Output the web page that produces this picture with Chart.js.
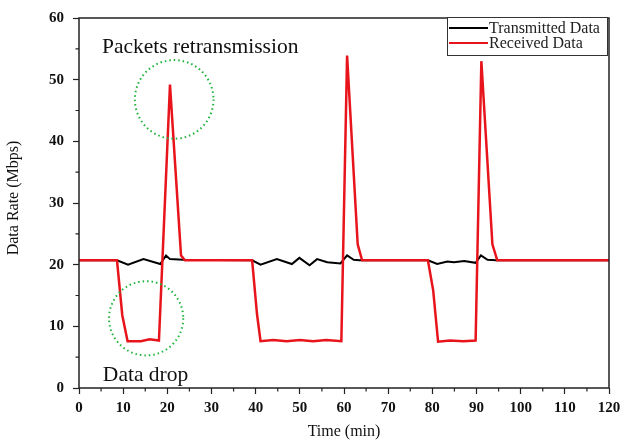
<!DOCTYPE html>
<html>
<head>
<meta charset="utf-8">
<script src="https://cdn.jsdelivr.net/npm/chart.js@4/dist/chart.umd.min.js"></script>
<style>
  html, body { margin: 0; padding: 0; background: #fff; }
  #wrap { width: 628px; height: 441px; }
</style>
</head>
<body>
<div id="wrap"><canvas id="myChart" width="628" height="441"></canvas></div>
<script>
// Transmitted data (black)
const txTime = [0, 8.6, 11.1, 14.6, 18.4, 19.7, 20.6, 23.6, 39.2, 41.1, 44.8, 48.2, 49.9, 52.2, 53.9, 56.2, 59.2, 60.7, 62.2, 63.5, 79.0, 81.1, 83.4, 84.9, 87.2, 89.8, 91.0, 92.5, 94.4, 120];
const txRate = [20.7, 20.7, 20.0, 20.9, 20.1, 21.5, 20.9, 20.8, 20.7, 20.0, 20.9, 20.1, 21.1, 19.9, 20.9, 20.4, 20.2, 21.5, 20.8, 20.7, 20.7, 20.1, 20.5, 20.4, 20.6, 20.3, 21.5, 20.8, 20.7, 20.7];

// Received data (red)
const rxTime = [0, 8.6, 9.8, 11.0, 14.0, 16.0, 18.1, 20.6, 23.1, 24.0, 39.2, 40.3, 41.1, 44, 47, 50, 53, 56, 59.4, 60.7, 63.1, 64.1, 79.0, 80.2, 81.3, 84, 87, 89.8, 91.1, 93.6, 94.7, 120];
const rxRate = [20.7, 20.7, 11.8, 7.6, 7.6, 7.9, 7.7, 49.2, 21.5, 20.7, 20.7, 12.0, 7.6, 7.8, 7.6, 7.8, 7.6, 7.8, 7.6, 53.9, 23.3, 20.7, 20.7, 15.8, 7.5, 7.7, 7.6, 7.7, 53.0, 23.3, 20.7, 20.7];

const seriesNames = ['Transmitted Data', 'Received Data'];
const xTicks = [0, 10, 20, 30, 40, 50, 60, 70, 80, 90, 100, 110, 120];
const yTicks = [0, 10, 20, 30, 40, 50, 60];

// annotations in data units: [time, rate, radius(min)]
const circles = [[21.55, 46.8, 8.9], [15.2, 11.3, 8.4]];
const notes = [['Packets retransmission', 5.2, 55.3], ['Data drop', 5.4, 2.1]];

const serif = '"Liberation Serif", "Times New Roman", serif';

const toPoints = (xs, ys) => xs.map((x, i) => ({x: x, y: ys[i]}));

const decorations = {
    id: 'decorations',
    afterDraw(chart) {
        const ctx = chart.ctx;
        const xs = chart.scales.x, ys = chart.scales.y;
        const a = chart.chartArea;
        ctx.save();
        // frame
        ctx.strokeStyle = '#222';
        ctx.lineWidth = 1.5;
        ctx.strokeRect(a.left, a.top, a.right - a.left, a.bottom - a.top);
        // minor ticks
        ctx.lineWidth = 1.2;
        ctx.beginPath();
        for (let v = 5; v < 120; v += 10) {
            const px = xs.getPixelForValue(v);
            ctx.moveTo(px, a.bottom);
            ctx.lineTo(px, a.bottom + 3.5);
        }
        for (let v = 5; v < 60; v += 10) {
            const py = ys.getPixelForValue(v);
            ctx.moveTo(a.left, py);
            ctx.lineTo(a.left - 3.5, py);
        }
        ctx.stroke();
        // dotted circles
        ctx.strokeStyle = '#1db33a';
        ctx.lineWidth = 2;
        ctx.setLineDash([1.5, 3]);
        circles.forEach(c => {
            const cx = xs.getPixelForValue(c[0]);
            const cy = ys.getPixelForValue(c[1]);
            const r = xs.getPixelForValue(c[2]) - xs.getPixelForValue(0);
            ctx.beginPath();
            ctx.arc(cx, cy, r, 0, Math.PI * 2);
            ctx.stroke();
        });
        ctx.setLineDash([]);
        // notes
        ctx.fillStyle = '#111';
        ctx.font = '21.5px ' + serif;
        ctx.textBaseline = 'middle';
        ctx.textAlign = 'left';
        notes.forEach(n => {
            ctx.fillText(n[0], xs.getPixelForValue(n[1]), ys.getPixelForValue(n[2]));
        });
        // axis titles
        ctx.font = '16px ' + serif;
        ctx.textAlign = 'center';
        ctx.fillText('Time (min)', (a.left + a.right) / 2, 432);
        ctx.save();
        ctx.translate(14, 198);
        ctx.rotate(-Math.PI / 2);
        ctx.fillText('Data Rate (Mbps)', 0, 0);
        ctx.restore();
        // legend box
        const lx = 447, ly = 17, lw = 160, lh = 38;
        ctx.fillStyle = '#fff';
        ctx.fillRect(lx, ly, lw, lh);
        ctx.strokeStyle = '#333';
        ctx.lineWidth = 1;
        ctx.strokeRect(lx + 0.5, ly + 0.5, lw, lh);
        const colors = ['#000000', '#e8141b'];
        ctx.font = '16px ' + serif;
        ctx.textAlign = 'left';
        seriesNames.forEach((name, i) => {
            const yy = ly + 11 + i * 15;
            ctx.strokeStyle = colors[i];
            ctx.lineWidth = 2;
            ctx.beginPath();
            ctx.moveTo(lx + 2, yy);
            ctx.lineTo(lx + 41, yy);
            ctx.stroke();
            ctx.fillStyle = '#222';
            ctx.fillText(name, lx + 42, yy + 1);
        });
        ctx.restore();
    }
};

new Chart(document.getElementById('myChart').getContext('2d'), {
    type: 'line',
    data: {
        datasets: [
            {
                label: seriesNames[0],
                data: toPoints(txTime, txRate),
                borderColor: '#000000',
                borderWidth: 2,
                pointRadius: 0,
                tension: 0,
                order: 2
            },
            {
                label: seriesNames[1],
                data: toPoints(rxTime, rxRate),
                borderColor: '#e8141b',
                borderWidth: 2.5,
                pointRadius: 0,
                tension: 0,
                order: 1
            }
        ]
    },
    options: {
        responsive: false,
        animation: false,
        layout: { padding: { top: 16, right: 19, left: 0, bottom: 0 } },
        plugins: { legend: { display: false }, tooltip: { enabled: false } },
        scales: {
            x: {
                type: 'linear',
                min: 0, max: 120,
                afterBuildTicks: (s) => { s.ticks = xTicks.map(v => ({value: v})); },
                afterFit: (s) => { s.height = 53; },
                grid: { drawOnChartArea: false, tickLength: 6, tickColor: '#222', tickWidth: 1.2 },
                border: { display: false },
                ticks: { color: '#111', font: { family: serif, size: 15, weight: 'bold' }, padding: 5, maxRotation: 0 }
            },
            y: {
                min: 0, max: 60,
                afterBuildTicks: (s) => { s.ticks = yTicks.map(v => ({value: v})); },
                afterFit: (s) => { s.width = 79; },
                grid: { drawOnChartArea: false, tickLength: 6, tickColor: '#222', tickWidth: 1.2 },
                border: { display: false },
                ticks: { color: '#111', font: { family: serif, size: 15, weight: 'bold' }, padding: 9 }
            }
        }
    },
    plugins: [decorations]
});
</script>
</body>
</html>
